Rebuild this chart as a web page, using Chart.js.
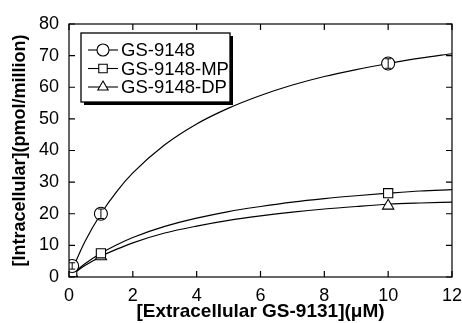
<!DOCTYPE html>
<html>
<head>
<meta charset="utf-8">
<script src="https://cdn.jsdelivr.net/npm/chart.js@4.4.0/dist/chart.umd.min.js"></script>
<style>
  html, body { margin: 0; padding: 0; background: #fff; }
</style>
</head>
<body>
<canvas id="uptake-chart" width="462" height="323"></canvas>
<script>
// measured points
const doseX = [0.1, 1, 10];
const gs9148 = [3.5, 20, 67.5];
const gs9148MP = [1.5, 7.5, 26.5];
const gs9148DP = [1, 6.5, 22.5];
const err9148 = [1, 1.5, 1.5];

// fitted curves
const fitX = [0, 0.5, 1, 1.5, 2, 3, 4, 5, 6, 7, 8, 9, 10, 11, 12];
const fit9148 = [0, 11.2, 20, 27.1, 32.9, 41.8, 48.4, 53.4, 57.4, 60.7, 63.4, 65.6, 67.5, 69.2, 70.6];
const fit9148MP = [0, 4.2, 7.5, 10.2, 12.5, 16.0, 18.6, 20.7, 22.3, 23.7, 24.8, 25.7, 26.5, 27.2, 27.6];
const fit9148DP = [0, 3.6, 6.5, 8.8, 10.8, 13.9, 16.1, 17.9, 19.3, 20.5, 21.5, 22.3, 23.0, 23.4, 23.7];

const seriesNames = ['GS-9148', 'GS-9148-MP', 'GS-9148-DP'];
const seriesMarkers = ['circle', 'rect', 'triangle'];

const xTicks = [0, 2, 4, 6, 8, 10, 12];
const yTicks = [0, 10, 20, 30, 40, 50, 60, 70, 80];

const toPoints = (xs, ys) => xs.map((x, i) => ({ x: x, y: ys[i] }));

function curveSet(ys) {
  return {
    data: toPoints(fitX, ys),
    showLine: true,
    pointRadius: 0,
    borderColor: '#000',
    borderWidth: 1.2,
    cubicInterpolationMode: 'monotone',
    order: 2,
  };
}

function markerSet(name, ys, style) {
  return {
    label: name,
    data: toPoints(doseX, ys),
    showLine: false,
    pointStyle: style,
    pointRadius: 6.5,
    pointBackgroundColor: '#fff',
    pointBorderColor: '#000',
    pointBorderWidth: 1.1,
    order: 1,
  };
}

// frame, inward ticks, error bars and the boxed legend
const framePlugin = {
  id: 'frame',
  afterDatasetsDraw(chart) {
    const { ctx, chartArea: a, scales } = chart;
    ctx.save();
    ctx.strokeStyle = '#000';
    ctx.lineWidth = 1.2;
    ctx.strokeRect(a.left, a.top, a.right - a.left, a.bottom - a.top);
    xTicks.forEach((v) => {
      const px = scales.x.getPixelForValue(v);
      ctx.beginPath();
      ctx.moveTo(px, a.bottom); ctx.lineTo(px, a.bottom - 6);
      ctx.moveTo(px, a.top); ctx.lineTo(px, a.top + 6);
      ctx.stroke();
    });
    yTicks.forEach((v) => {
      const py = scales.y.getPixelForValue(v);
      ctx.beginPath();
      ctx.moveTo(a.left, py); ctx.lineTo(a.left + 6, py);
      ctx.moveTo(a.right, py); ctx.lineTo(a.right - 6, py);
      ctx.stroke();
    });
    // error bars of the parent compound
    ctx.lineWidth = 1;
    doseX.forEach((x, i) => {
      const px = scales.x.getPixelForValue(x);
      const y1 = scales.y.getPixelForValue(gs9148[i] - err9148[i]);
      const y2 = scales.y.getPixelForValue(gs9148[i] + err9148[i]);
      ctx.beginPath();
      ctx.moveTo(px, y1); ctx.lineTo(px, y2);
      ctx.moveTo(px - 3, y1); ctx.lineTo(px + 3, y1);
      ctx.moveTo(px - 3, y2); ctx.lineTo(px + 3, y2);
      ctx.stroke();
    });

    // legend box
    const bx = a.left + 12, by = a.top + 9, bw = 149, bh = 69;
    ctx.fillStyle = '#000';
    ctx.fillRect(bx + 3, by + 3, bw, bh);
    ctx.fillStyle = '#fff';
    ctx.fillRect(bx, by, bw, bh);
    ctx.lineWidth = 1.3;
    ctx.strokeRect(bx, by, bw, bh);
    ctx.font = '18.5px "Liberation Sans", Arial, sans-serif';
    ctx.textBaseline = 'middle';
    seriesNames.forEach((name, i) => {
      const ry = by + 17 + i * 18.5;
      ctx.strokeStyle = '#000';
      ctx.lineWidth = 1.1;
      ctx.beginPath();
      ctx.moveTo(bx + 7, ry); ctx.lineTo(bx + 37, ry);
      ctx.stroke();
      ctx.fillStyle = '#fff';
      Chart.helpers.drawPoint(ctx, {
        pointStyle: seriesMarkers[i], radius: 6, borderWidth: 1.1, rotation: 0,
      }, bx + 22, ry);
      ctx.fillStyle = '#000';
      ctx.fillText(name, bx + 40, ry + 1);
    });
    ctx.restore();
  },
};

const ctx = document.getElementById('uptake-chart').getContext('2d');
// eslint-disable-next-line no-unused-vars
const chart = new Chart(ctx, {
  type: 'scatter',
  data: {
    datasets: [
      curveSet(fit9148),
      curveSet(fit9148MP),
      curveSet(fit9148DP),
      markerSet(seriesNames[0], gs9148, seriesMarkers[0]),
      markerSet(seriesNames[1], gs9148MP, seriesMarkers[1]),
      markerSet(seriesNames[2], gs9148DP, seriesMarkers[2]),
    ],
  },
  options: {
    responsive: false,
    animation: false,
    devicePixelRatio: 1,
    layout: { padding: { top: 24, right: 9, left: 0, bottom: 0 } },
    plugins: { legend: { display: false }, tooltip: { enabled: false } },
    scales: {
      x: {
        type: 'linear', min: 0, max: 12,
        afterBuildTicks: (s) => { s.ticks = xTicks.map((v) => ({ value: v })); },
        afterFit: (s) => { s.height = 46; },
        grid: { display: false },
        border: { display: false },
        ticks: { color: '#000', padding: 0, font: { family: '"Liberation Sans", Arial', size: 18 } },
        title: {
          display: true, text: '[Extracellular GS-9131](\u03bcM)', color: '#000',
          font: { family: '"Liberation Sans", Arial', size: 19, weight: 'bold' },
          padding: 0,
        },
      },
      y: {
        type: 'linear', min: 0, max: 80,
        afterBuildTicks: (s) => { s.ticks = yTicks.map((v) => ({ value: v })); },
        afterFit: (s) => { s.width = 69; },
        grid: { display: false },
        border: { display: false },
        ticks: { color: '#000', padding: 2, font: { family: '"Liberation Sans", Arial', size: 18 } },
        title: {
          display: true, text: '[Intracellular](pmol/million)', color: '#000',
          font: { family: '"Liberation Sans", Arial', size: 18, weight: 'bold' },
          padding: 9,
        },
      },
    },
  },
  plugins: [framePlugin],
});
</script>
</body>
</html>
